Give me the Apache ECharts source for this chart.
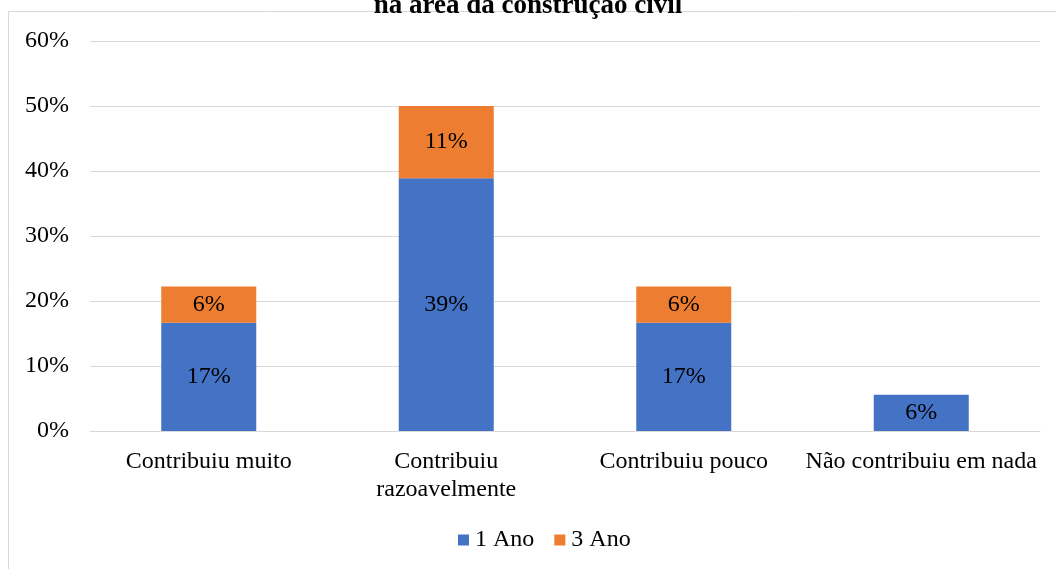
<!DOCTYPE html>
<html>
<head>
<meta charset="utf-8">
<script src="https://cdn.jsdelivr.net/npm/echarts@6/dist/echarts.min.js"></script>
<style>
  html, body { margin: 0; padding: 0; background: #fff; }
  #chart { width: 1056px; height: 569px; }
</style>
</head>
<body>
<div id="chart"></div>
<script>
  const categories = ['Contribuiu muito', 'Contribuiu\nrazoavelmente', 'Contribuiu pouco', 'Não contribuiu em nada']
  const ano1 = [16.67, 38.89, 16.67, 5.56]
  const ano3 = [5.56, 11.11, 5.56, 0]
  const yTicks = [0, 10, 20, 30, 40, 50, 60]

  const font = 'Liberation Serif, Times New Roman, serif'
  const chart = echarts.init(document.getElementById('chart'))

  const barLabel = {
    show: true,
    position: 'inside',
    color: '#000',
    fontFamily: font,
    fontSize: 24,
    formatter: (p) => (p.value > 0 ? Math.round(p.value) + '%' : '')
  }

  const option = {
    animation: false,
    textStyle: { fontFamily: font },
    title: {
      text: 'na área da construção civil',
      left: 'center',
      top: -12,
      textStyle: { fontFamily: font, fontSize: 27, fontWeight: 'bold', color: '#000' }
    },
    graphic: [
      {
        type: 'rect',
        shape: { x: 8.5, y: 11.5, width: 1100, height: 600 },
        style: { fill: 'none', stroke: '#d9d9d9', lineWidth: 1 },
        z: -1
      }
    ],
    legend: {
      bottom: 12,
      left: 453,
      itemWidth: 11,
      itemHeight: 11,
      itemGap: 20,
      icon: 'rect',
      textStyle: { fontFamily: font, fontSize: 24, color: '#000', padding: [0, 0, 0, 1] },
      data: ['1 Ano', '3 Ano']
    },
    grid: { left: 90, right: 16, top: 41, bottom: 138 },
    xAxis: {
      type: 'category',
      data: categories,
      axisTick: { show: false },
      axisLine: { lineStyle: { color: '#d9d9d9', width: 1 } },
      axisLabel: { color: '#000', fontFamily: font, fontSize: 24, lineHeight: 28, margin: 17, interval: 0 }
    },
    yAxis: {
      type: 'value',
      min: 0,
      max: 60,
      interval: 10,
      axisLabel: {
        color: '#000',
        fontFamily: font,
        fontSize: 24,
        margin: 21,
        formatter: (v) => (yTicks.includes(v) ? v + '%' : '')
      },
      splitLine: { lineStyle: { color: '#d9d9d9', width: 1 } },
      axisLine: { show: false },
      axisTick: { show: false }
    },
    series: [
      {
        name: '1 Ano',
        type: 'bar',
        stack: 'total',
        barWidth: '40%',
        data: ano1,
        itemStyle: { color: '#4472c4' },
        label: barLabel
      },
      {
        name: '3 Ano',
        type: 'bar',
        stack: 'total',
        barWidth: '40%',
        data: ano3,
        itemStyle: { color: '#ed7d31' },
        label: barLabel
      }
    ]
  }

  chart.setOption(option)
</script>
</body>
</html>
